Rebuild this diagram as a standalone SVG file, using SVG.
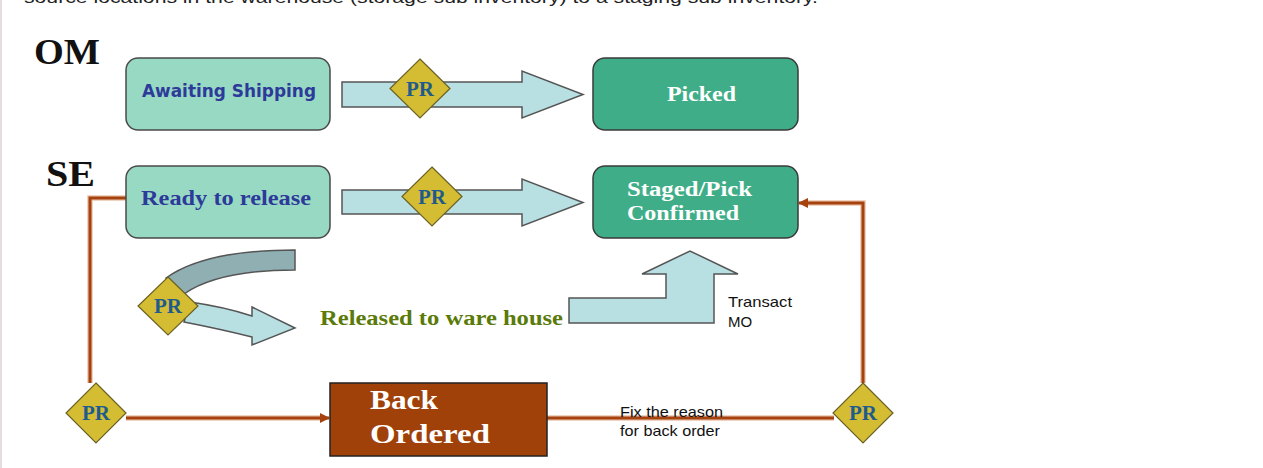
<svg xmlns="http://www.w3.org/2000/svg" width="1263" height="468" viewBox="0 0 1263 468">
<style>
.st1{fill:#97D9C3;stroke:#4a4a4a;stroke-width:1.5}
.st2{fill:#3FAE88;stroke:#3a3a3a;stroke-width:1.5}
.arr{fill:#B8DFE2;stroke:#555;stroke-width:1.5}
.pr{fill:#D4BC33;stroke:#6a6124;stroke-width:1.2}
.prt{font-family:"Liberation Serif",serif;font-weight:bold;font-size:21px;fill:#1F5C8C;text-anchor:middle}
.bl{fill:none;stroke:#A5420E;stroke-width:3}
.halo{fill:none;stroke:#EBC3AC;stroke-width:5.5}
.lbl{font-family:"Liberation Sans",Arial,sans-serif;font-size:15px;fill:#111}
.ser{font-family:"Liberation Serif",serif;font-weight:bold}
</style>
<defs>
<marker id="ah" markerWidth="10" markerHeight="10" refX="9" refY="5" orient="auto" markerUnits="userSpaceOnUse">
<path d="M0,0 L10,5 L0,10 Z" fill="#A5420E"/>
</marker>
</defs>
<rect width="1263" height="468" fill="#fff"/>
<line x1="1" y1="0" x2="1" y2="468" stroke="#DCD0D6" stroke-width="1.5"/>
<text x="24" y="3" font-family="Liberation Sans,Arial,sans-serif" font-size="16" fill="#222" textLength="794" lengthAdjust="spacingAndGlyphs">source locations in the warehouse (storage sub inventory) to a staging sub inventory.</text>

<text x="34" y="64" class="ser" font-size="36" fill="#111" textLength="66" lengthAdjust="spacingAndGlyphs">OM</text>
<text x="46" y="186" class="ser" font-size="36" fill="#111" textLength="49" lengthAdjust="spacingAndGlyphs">SE</text>

<g id="connectors">
<path class="halo" d="M126,198 H90 V383"/>
<path class="bl" d="M126,198 H90 V383"/>
<path class="halo" d="M126,418 H322"/>
<path class="bl" d="M126,418 H329" marker-end="url(#ah)"/>
<path class="halo" d="M547,418 H834"/>
<path class="bl" d="M547,418 H834"/>
<path class="halo" d="M863,383 V203 H806"/>
<path class="bl" d="M863,383 V203 H799" marker-end="url(#ah)"/>
</g>

<g id="arrow-om">
<path class="arr" d="M342,82 H522 V71 L583,94.5 L522,118 V107 H342 Z"/>
</g>
<g id="arrow-se">
<path class="arr" d="M342,190 H522 V179 L583,202.5 L522,226 V214 H342 Z"/>
</g>
<g id="curve-arrow">
<path d="M295,250 L295,270 C250,270 210,276 184,294 L166,278 C195,257 245,250 295,250 Z" fill="#8FAFB3" stroke="#555" stroke-width="1.5"/>
<path class="arr" d="M190,302 Q225,307 252,316 L252,307 L295,328 L252,345 L252,337 Q220,329 184,322 Z"/>
</g>
<g id="transact-arrow">
<path class="arr" d="M569,298 H666 V274 H642 L690,251 L738,274 H714 V323 H569 Z"/>
</g>

<g id="awaiting">
<rect class="st1" x="126" y="58" width="204" height="72" rx="12"/>
<text x="142" y="97" font-family="DejaVu Sans,Verdana,sans-serif" font-weight="bold" font-size="17" fill="#2E3A9A" textLength="174" lengthAdjust="spacingAndGlyphs">Awaiting Shipping</text>
</g>
<g id="ready">
<rect class="st1" x="126" y="166" width="204" height="72" rx="12"/>
<text x="141" y="205" class="ser" font-size="20" fill="#2E3A9A" textLength="170" lengthAdjust="spacingAndGlyphs">Ready to release</text>
</g>
<g id="picked">
<rect class="st2" x="593" y="58" width="205" height="72" rx="12"/>
<text x="667" y="101" class="ser" font-size="20" fill="#fff" textLength="69" lengthAdjust="spacingAndGlyphs">Picked</text>
</g>
<g id="staged">
<rect class="st2" x="593" y="166" width="205" height="72" rx="12"/>
<text x="627" y="196" class="ser" font-size="20" fill="#fff" textLength="125" lengthAdjust="spacingAndGlyphs">Staged/Pick</text>
<text x="627" y="220" class="ser" font-size="20" fill="#fff" textLength="112" lengthAdjust="spacingAndGlyphs">Confirmed</text>
</g>
<g id="released">
<text x="320" y="325" class="ser" font-size="20" fill="#5A7A0A" textLength="243" lengthAdjust="spacingAndGlyphs">Released to ware house</text>
</g>
<g id="backordered">
<rect x="330" y="383" width="217" height="73" fill="#A0410A" stroke="#222" stroke-width="1.5"/>
<text x="370" y="409" class="ser" font-size="28" fill="#fff" textLength="68" lengthAdjust="spacingAndGlyphs">Back</text>
<text x="370" y="443" class="ser" font-size="28" fill="#fff" textLength="120" lengthAdjust="spacingAndGlyphs">Ordered</text>
</g>

<g id="pr1"><path class="pr" d="M420,59 L450,88.5 L420,118 L390,88.5 Z"/><text x="420" y="96" class="prt">PR</text></g>
<g id="pr2"><path class="pr" d="M432,167 L462,196.5 L432,226 L402,196.5 Z"/><text x="432" y="204" class="prt">PR</text></g>
<g id="pr3"><path class="pr" d="M168,277 L198,306 L168,335 L138,306 Z"/><text x="168" y="313" class="prt">PR</text></g>
<g id="pr4"><path class="pr" d="M96,383 L126,413 L96,443 L66,413 Z"/><text x="96" y="420" class="prt">PR</text></g>
<g id="pr5"><path class="pr" d="M863,383 L893,413 L863,443 L833,413 Z"/><text x="863" y="420" class="prt">PR</text></g>

<g id="labels">
<text x="728" y="307" class="lbl" textLength="64" lengthAdjust="spacingAndGlyphs">Transact</text>
<text x="728" y="327" class="lbl">MO</text>
<text x="620" y="417" class="lbl" textLength="103" lengthAdjust="spacingAndGlyphs">Fix the reason</text>
<text x="620" y="436" class="lbl" textLength="100" lengthAdjust="spacingAndGlyphs">for back order</text>
</g>
</svg>
